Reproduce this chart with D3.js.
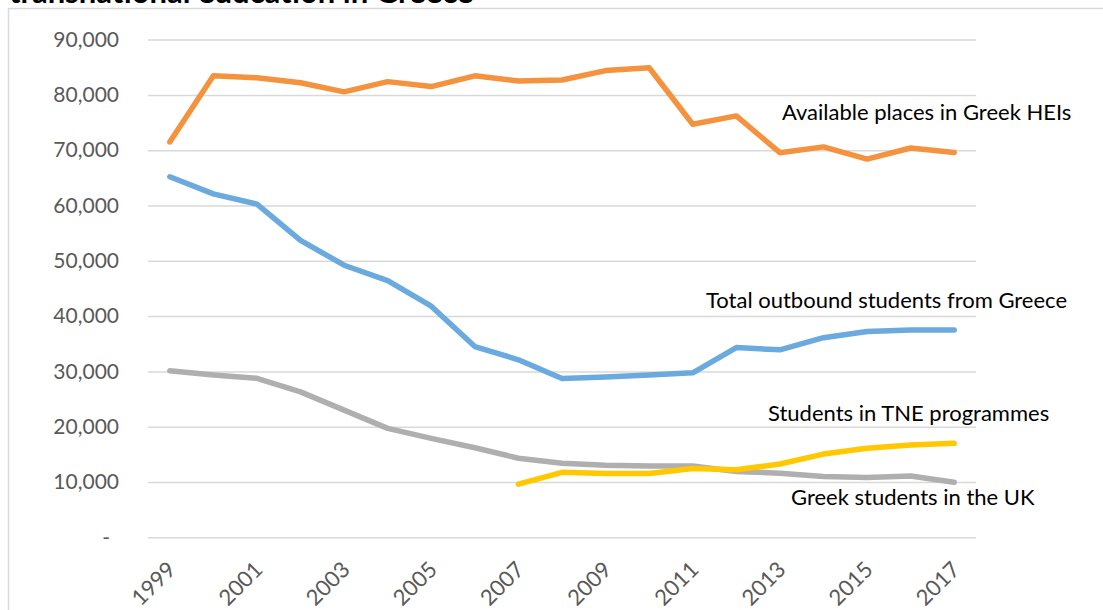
<!DOCTYPE html>
<html>
<head>
<meta charset="utf-8">
<script src="https://cdn.jsdelivr.net/npm/d3@7"></script>
<style>
  html, body { margin: 0; padding: 0; background: #fff; }
  svg { display: block; font-family: Lato, "Open Sans", sans-serif; }
</style>
</head>
<body>
<div id="chart"></div>
<script>
// values
var years = d3.range(1999, 2018);
var labelYears = [1999, 2001, 2003, 2005, 2007, 2009, 2011, 2013, 2015, 2017];
var yTicks = [0, 10000, 20000, 30000, 40000, 50000, 60000, 70000, 80000, 90000];

var availablePlaces = [71500, 83450, 83100, 82200, 80550, 82400, 81500, 83450, 82500, 82700,
                       84400, 84900, 74700, 76200, 69550, 70600, 68400, 70400, 69600];
var totalOutbound = [65200, 62100, 60250, 53700, 49200, 46400, 41800, 34500, 32100, 28700,
                     29000, 29350, 29750, 34300, 33900, 36100, 37200, 37500, 37500];
var ukStudents = [30100, 29350, 28750, 26300, 23000, 19700, 17900, 16200, 14300, 13400,
                  13050, 12900, 12900, 11900, 11600, 11000, 10800, 11100, 9950];
var tneYears = d3.range(2007, 2018);
var tneStudents = [9600, 11750, 11550, 11550, 12450, 12200, 13250, 15050, 16100, 16700, 17000];

var seriesNames = ["Available places in Greek HEIs", "Total outbound students from Greece",
                   "Students in TNE programmes", "Greek students in the UK"];
var colors = ["#f5923e", "#6aaade", "#ffc800", "#afafaf"];

var W = 1103, H = 610;
var plot = {left: 148, right: 976, top: 39.6, bottom: 537.3};

var svg = d3.select("#chart").append("svg")
    .attr("width", W)
    .attr("height", H);

// chart frame (only top and left edges are in view)
svg.append("path")
    .attr("d", "M8.5,610 L8.5,8.5 L1103,8.5")
    .attr("fill", "none")
    .attr("stroke", "#d9d9d9")
    .attr("stroke-width", 1.5);

// title, mostly cut off above
svg.append("text")
    .attr("x", 9)
    .attr("y", 2.5)
    .attr("font-size", 31)
    .attr("font-weight", "bold")
    .attr("fill", "#000")
    .text("transnational education in Greece");

var x = d3.scalePoint().domain(years).range([plot.left, plot.right]).padding(0.5);
var y = d3.scaleLinear().domain([0, 90000]).range([plot.bottom, plot.top]);

// gridlines
svg.append("g")
    .attr("transform", "translate(" + plot.left + ",0)")
    .call(d3.axisLeft(y).tickValues(yTicks).tickSize(-(plot.right - plot.left)).tickFormat(""))
    .call(function(g) {
        g.select(".domain").remove();
        g.selectAll("line").attr("stroke", "#d9d9d9").attr("stroke-width", 1.5);
    });

// y axis labels
svg.append("g")
    .attr("transform", "translate(" + plot.left + ",0)")
    .call(d3.axisLeft(y).tickValues(yTicks).tickSize(0).tickPadding(29)
        .tickFormat(function(d) { return d === 0 ? "-" : d3.format(",")(d); }))
    .call(function(g) {
        g.select(".domain").remove();
        g.selectAll("text")
            .attr("font-family", "Lato, sans-serif")
            .attr("font-size", 21)
            .attr("fill", "#595959")
            .attr("dx", function(d) { return d === 0 ? -9 : 0; });
    });

// x axis labels
svg.append("g")
    .attr("transform", "translate(0," + plot.bottom + ")")
    .call(d3.axisBottom(x).tickValues(labelYears).tickSize(0).tickFormat(d3.format("d")))
    .call(function(g) {
        g.select(".domain").remove();
        g.selectAll("text")
            .attr("font-family", "Lato, sans-serif")
            .attr("font-size", 22)
            .attr("fill", "#595959")
            .attr("text-anchor", "end")
            .attr("transform", "translate(-5,22) rotate(-45)")
            .attr("y", 0)
            .attr("dy", "0.75em");
    });

var line = d3.line()
    .x(function(d) { return x(d[0]); })
    .y(function(d) { return y(d[1]); });

var series = [
    d3.zip(years, availablePlaces),
    d3.zip(years, totalOutbound),
    d3.zip(tneYears, tneStudents),
    d3.zip(years, ukStudents)
];

// draw grey first, then yellow, blue, orange on top
[3, 2, 1, 0].forEach(function(i) {
    svg.append("path")
        .attr("d", line(series[i]))
        .attr("fill", "none")
        .attr("stroke", colors[i])
        .attr("stroke-width", 5.5)
        .attr("stroke-linejoin", "round")
        .attr("stroke-linecap", "round");
});

// series labels
var labelPos = [[782, 120], [706, 308], [768, 421], [791, 505]];
seriesNames.forEach(function(name, i) {
    svg.append("text")
        .attr("x", labelPos[i][0])
        .attr("y", labelPos[i][1])
        .attr("font-family", "Lato, sans-serif")
        .attr("font-size", 22)
        .attr("fill", "#000")
        .text(name);
});
</script>
</body>
</html>
